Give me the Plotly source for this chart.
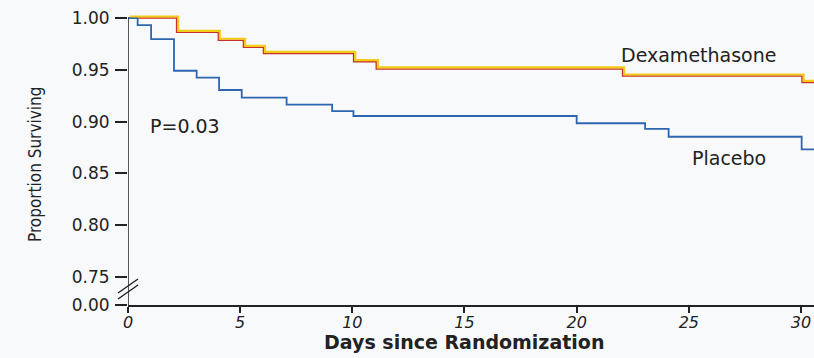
import plotly.graph_objects as go

# Kaplan-Meier step data
dexa_days = [0, 2.17, 4.03, 5.15, 6.04, 10.06, 11.07, 22.05, 30.05, 31]
dexa_surv = [1.0, 0.9862, 0.9785, 0.9717, 0.9659, 0.9578, 0.9508, 0.9440, 0.9379, 0.9379]

placebo_days = [0, 0.43, 1.03, 2.05, 3.06, 4.06, 5.07, 7.07, 9.1, 10.05, 20.0, 23.05, 24.1, 30.03, 31]
placebo_surv = [1.0, 0.9932, 0.9797, 0.9491, 0.9424, 0.9305, 0.9231, 0.9163, 0.9102, 0.9054,
                0.8984, 0.8929, 0.8854, 0.8731, 0.8731]

x_ticks = [0, 5, 10, 15, 20, 25, 30]
y_ticks = [0.75, 0.80, 0.85, 0.90, 0.95, 1.00]
y_tick_labels = ["0.75", "0.80", "0.85", "0.90", "0.95", "1.00"]
zero_label = "0.00"

# axis-break layout constants
PX_PER_UNIT = 1036.0
Y_ZERO_POS = 0.75 - 28 / PX_PER_UNIT      # where "0.00" sits after the break
Y_TOP = 1.0 + 18 / PX_PER_UNIT
X_MAX = 30.58

RED = "#c9302c"
YELLOW = "#f3cc16"
BLUE = "#2c66b0"
INK = "#222222"
FONT = "DejaVu Sans"

fig = go.Figure()

# yellow "shadow" of the dexamethasone line on offset overlay axes
fig.add_trace(go.Scatter(x=dexa_days, y=dexa_surv, mode="lines", line_shape="hv",
                         line=dict(color=YELLOW, width=2.2), xaxis="x2", yaxis="y2",
                         hoverinfo="skip", showlegend=False))
fig.add_trace(go.Scatter(x=dexa_days, y=dexa_surv, mode="lines", line_shape="hv",
                         line=dict(color=RED, width=1.6), name="Dexamethasone",
                         showlegend=False))
fig.add_trace(go.Scatter(x=placebo_days, y=placebo_surv, mode="lines", line_shape="hv",
                         line=dict(color=BLUE, width=1.8), name="Placebo",
                         showlegend=False))

off_x = 1.5 / 22.43
off_y = 1.5 / PX_PER_UNIT

fig.update_layout(
    width=814, height=358,
    margin=dict(l=128, r=0, t=0, b=53),
    paper_bgcolor="#f8f9fb", plot_bgcolor="rgba(0,0,0,0)",
    font=dict(family=FONT, color=INK),
    xaxis=dict(range=[0, X_MAX], tickvals=x_ticks, ticktext=[str(v) for v in x_ticks],
               showgrid=False, zeroline=False, showline=True, linecolor=INK, linewidth=1.5,
               ticks="outside", ticklen=6, tickwidth=1.5, tickcolor=INK,
               ticklabelstandoff=-4,
               tickfont=dict(family=FONT, size=16, style="italic", color=INK)),
    yaxis=dict(range=[Y_ZERO_POS, Y_TOP], tickvals=y_ticks + [Y_ZERO_POS],
               ticktext=y_tick_labels + [zero_label],
               showgrid=False, zeroline=False, showline=False,
               ticks="outside", ticklen=12, tickwidth=1.5, tickcolor=INK,
               ticklabelstandoff=2,
               tickfont=dict(family=FONT, size=17, color=INK)),
    xaxis2=dict(range=[-off_x, X_MAX - off_x], overlaying="x", visible=False),
    yaxis2=dict(range=[Y_ZERO_POS - off_y, Y_TOP - off_y], overlaying="y", visible=False),
)

# y axis line from the break to 1.00
fig.add_shape(type="line", xref="x", yref="y", x0=0, x1=0, y0=Y_ZERO_POS, y1=1.0,
              line=dict(color=INK, width=1.5))
# axis break marks (paper-referenced so they are not clipped by the plot area)
mid_frac = ((0.75 + Y_ZERO_POS) / 2 - Y_ZERO_POS) / (Y_TOP - Y_ZERO_POS)
for dy in (5, -1):
    fig.add_shape(type="line", xref="paper", yref="paper", xsizemode="pixel", ysizemode="pixel",
                  xanchor=0, yanchor=mid_frac, x0=-10, x1=10, y0=dy - 7, y1=dy + 7,
                  line=dict(color=INK, width=1.4))

fig.add_annotation(x=25.41, y=0.9643, xref="x", yref="y", text="Dexamethasone",
                   showarrow=False, font=dict(family=FONT, size=19, color=INK))
fig.add_annotation(x=26.79, y=0.8649, xref="x", yref="y", text="Placebo",
                   showarrow=False, font=dict(family=FONT, size=19, color=INK))
fig.add_annotation(x=0.89, y=0.8958, xref="x", yref="y", text="P=0.03", xanchor="left",
                   showarrow=False, font=dict(family=FONT, size=19, color=INK))

fig.add_annotation(x=(464 - 128) / 686, y=0, xref="paper", yref="paper", yshift=-37,
                   xanchor="center", yanchor="middle",
                   text="<b>Days since Randomization</b>", showarrow=False,
                   font=dict(family=FONT, size=19, color=INK))
fig.add_annotation(x=0, y=(305 - 165) / 305, xref="paper", yref="paper", xshift=-93,
                   xanchor="center", yanchor="middle",
                   text="Proportion Surviving", textangle=-90, showarrow=False,
                   font=dict(family="DejaVu Sans Condensed", size=17, color=INK))

fig.write_html("out.html")
